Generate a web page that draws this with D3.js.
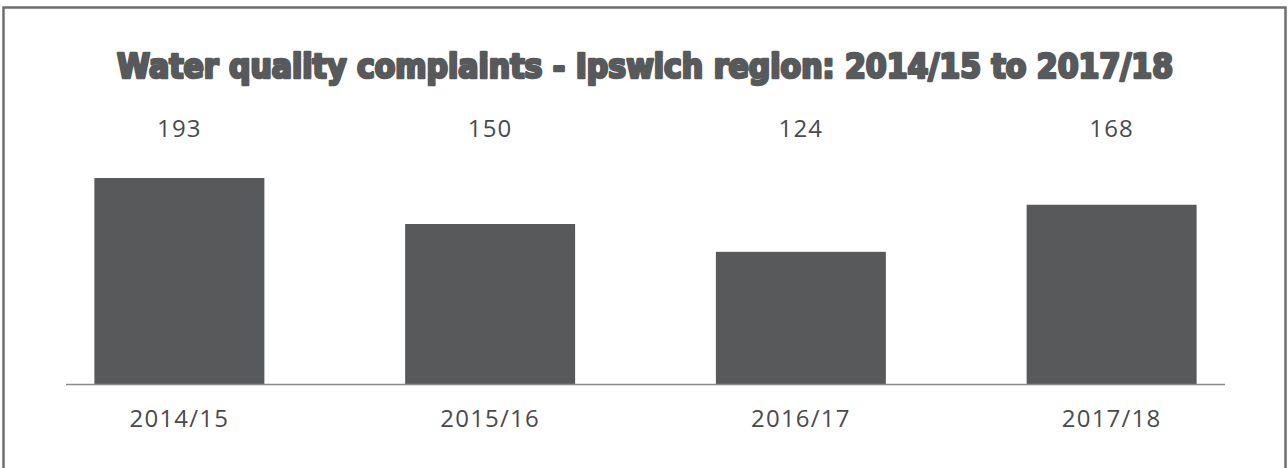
<!DOCTYPE html>
<html>
<head>
<meta charset="utf-8">
<script src="https://cdn.jsdelivr.net/npm/d3@7"></script>
<style>
  html, body { margin: 0; padding: 0; background: #fff; }
  svg { display: block; }
</style>
</head>
<body>
<div id="chart"></div>
<script>
// Water quality complaints, Ipswich region — simple labelled column chart.

const title = "Water quality complaints - Ipswich region: 2014/15 to 2017/18";
const years = ["2014/15", "2015/16", "2016/17", "2017/18"];
const complaints = [193, 150, 124, 168];

const W = 1288, H = 468;
const BASE_Y = 384.5;
const INK = "#58595b";

const svg = d3.select("#chart")
  .append("svg")
  .attr("width", W)
  .attr("height", H)
  .attr("viewBox", `0 0 ${W} ${H}`);

// Frame round the whole figure.
svg.append("rect")
  .attr("x", 3.5).attr("y", 7.5)
  .attr("width", W - 6).attr("height", H + 10)
  .attr("fill", "none")
  .attr("stroke", "#6d6e70")
  .attr("stroke-width", 2.5);

svg.append("text")
  .attr("x", 645)
  .attr("y", 78)
  .attr("text-anchor", "middle")
  .attr("font-family", "'DejaVu Sans Condensed', 'DejaVu Sans', sans-serif")
  .attr("font-weight", 700)
  .attr("font-size", 33)
  .attr("fill", INK)
  .attr("stroke", INK)
  .attr("stroke-width", 2.6)
  .attr("stroke-linejoin", "round")
  .attr("textLength", 1056)
  .attr("lengthAdjust", "spacingAndGlyphs")
  .text(title);

const x = d3.scaleBand()
  .domain(years)
  .range([24, 1267])
  .paddingInner(0.453)
  .paddingOuter(0.2265);

const y = d3.scaleLinear()
  .domain([0, 193])
  .range([BASE_Y, 178]);

svg.append("g")
  .selectAll("rect")
  .data(years)
  .join("rect")
    .attr("x", (d) => x(d))
    .attr("y", (d, i) => y(complaints[i]))
    .attr("width", x.bandwidth())
    .attr("height", (d, i) => BASE_Y - y(complaints[i]))
    .attr("fill", INK);

// Baseline
svg.append("line")
  .attr("x1", 66).attr("x2", 1225)
  .attr("y1", BASE_Y).attr("y2", BASE_Y)
  .attr("stroke", "#8a8a8c")
  .attr("stroke-width", 1.5);

const labelFont = "'Open Sans', 'DejaVu Sans', sans-serif";

svg.append("g")
  .selectAll("text")
  .data(years)
  .join("text")
    .attr("x", (d) => x(d) + x.bandwidth() / 2)
    .attr("y", 137)
    .attr("text-anchor", "middle")
    .attr("font-family", labelFont)
    .attr("font-size", 24)
    .attr("letter-spacing", 1.2)
    .attr("fill", "#4a4a4c")
    .text((d, i) => complaints[i]);

svg.append("g")
  .selectAll("text")
  .data(years)
  .join("text")
    .attr("x", (d) => x(d) + x.bandwidth() / 2)
    .attr("y", 427)
    .attr("text-anchor", "middle")
    .attr("font-family", labelFont)
    .attr("font-size", 24)
    .attr("letter-spacing", 1.2)
    .attr("fill", "#4a4a4c")
    .text((d) => d);
</script>
</body>
</html>
